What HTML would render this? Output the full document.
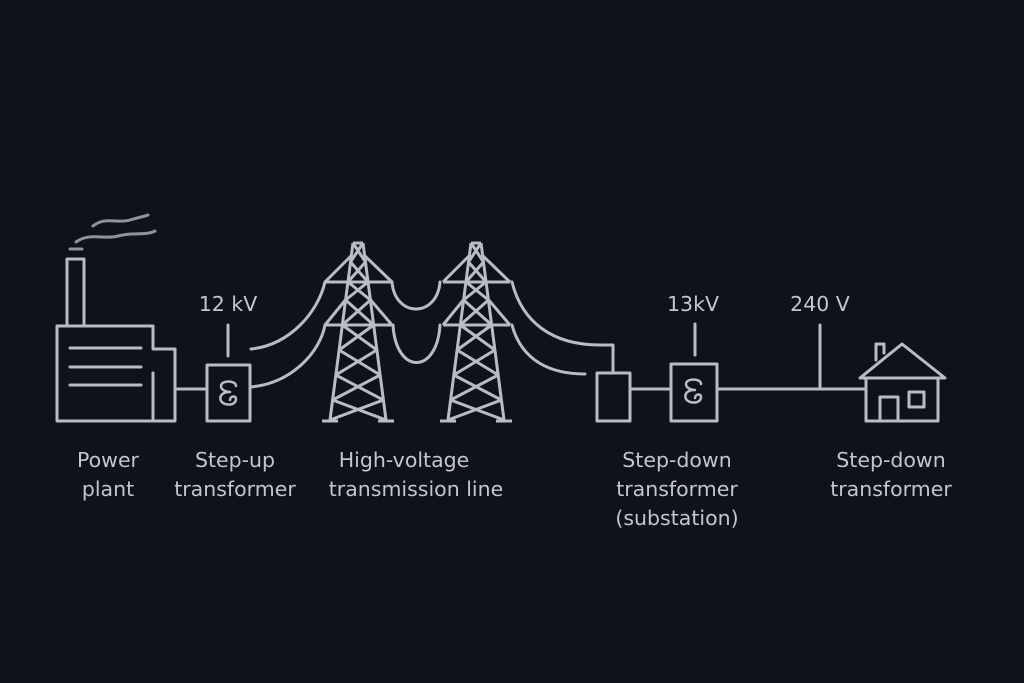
<!DOCTYPE html>
<html><head><meta charset="utf-8"><style>
html,body{margin:0;padding:0;background:#0f121a;}
svg{display:block}
text{font-family:"DejaVu Sans","Liberation Sans",sans-serif;font-size:20.5px;fill:#c4c6c9;text-anchor:middle}
</style></head><body>
<svg width="1024" height="683" viewBox="0 0 1024 683">
<rect width="1024" height="683" fill="#0f121a"/>
<defs>
<g id="tower" fill="none" stroke="#b9bcc1" stroke-width="3" stroke-linejoin="round">
  <path d="M-5,243 L-28,420 M5,243 L28,420 M-5,243 L5,243"/>
  <path d="M-33,282 L34,282 M-33,325 L34,325"/>
  <path d="M-33,282 L-6,255 M34,282 L6,255 M-33,325 L-11,298 M34,325 L11,298"/>
  <path d="M-5,243 L7.5,262 M5,243 L-7.5,262
           M-7.5,262 L10,282 M7.5,262 L-10,282
           M-10,282 L12.4,300 M10,282 L-12.4,300
           M-12.4,300 L15.7,325 M12.4,300 L-15.7,325
           M-15.7,325 L18.9,350 M15.7,325 L-18.9,350
           M-18.9,350 L22.2,375 M18.9,350 L-22.2,375
           M-22.2,375 L25.4,400 M22.2,375 L-25.4,400
           M-25.4,400 L28,420 M25.4,400 L-28,420"/>
  <path d="M-36,421 L-20,421 M20,421 L36,421"/>
</g>
</defs>
<g fill="none" stroke="#b9bcc1" stroke-width="3" stroke-linejoin="round" stroke-linecap="round">
  <path d="M93,226 C105,216 118,224 130,220 C140,217 146,216 148,215" stroke="#8f939a"/>
  <path d="M76,242 C90,232 104,240 118,236 C132,232 145,236 155,231" stroke="#8f939a"/>
  <path d="M70,249 L82,249" stroke="#8f939a"/>
  <path d="M67,326 L67,259 L84,259 L84,326"/>
  <path d="M57,421 L57,326 L153,326 L153,349 L175,349 L175,421 Z"/>
  <path d="M153,373 L153,421"/>
  <path d="M70,348 L141,348 M70,367 L141,367 M70,385 L141,385"/>
  <path d="M175,389 L207,389"/>
  <rect x="207" y="365" width="43" height="56"/>
  <path d="M228,325 L228,356"/>
  <path d="M236,386 C236,380 221,380 221,386 C221,390 226,392 230,392 C222,392 219,396 221,401 C224,406 236,406 236,399 C236,395 230,396 230,400" stroke-width="2.5"/>
  <path d="M251,349 C290,345 318,312 325,282"/>
  <path d="M251,387 C292,383 320,352 325,325"/>
  <path d="M392,282 C395,318 437,318 440,282"/>
  <path d="M393,325 C396,375 437,375 440,325"/>
  <path d="M512,282 C522,322 552,345 600,345 L613,345 L613,373"/>
  <path d="M512,325 C522,362 552,374 585,374"/>
  <rect x="597" y="373" width="33" height="48"/>
  <path d="M630,389 L671,389"/>
  <rect x="671" y="364" width="46" height="57"/>
  <path d="M695,324 L695,355"/>
  <path d="M701,384 C701,378 686,378 686,384 C686,388 691,390 695,390 C687,390 684,394 686,399 C689,404 701,404 701,397 C701,393 695,394 695,398" stroke-width="2.5"/>
  <path d="M717,389 L866,389"/>
  <path d="M820,325 L820,389"/>
  <path d="M860,378 L902,344 L945,378 Z"/>
  <path d="M866,378 L866,421 L938,421 L938,378"/>
  <path d="M876,360 L876,344 L884,344 L884,353"/>
  <path d="M880,421 L880,397 L898,397 L898,421"/>
  <rect x="909" y="392" width="15" height="15"/>
</g>
<use href="#tower" x="358"/>
<use href="#tower" x="476"/>
<text x="228" y="311">12 kV</text>
<text x="693" y="311">13kV</text>
<text x="820" y="311">240 V</text>
<text x="108" y="467">Power</text>
<text x="108" y="496">plant</text>
<text x="235" y="467">Step-up</text>
<text x="235" y="496">transformer</text>
<text x="404" y="467">High-voltage</text>
<text x="416" y="496">transmission line</text>
<text x="677" y="467">Step-down</text>
<text x="677" y="496">transformer</text>
<text x="677" y="525">(substation)</text>
<text x="891" y="467">Step-down</text>
<text x="891" y="496">transformer</text>
</svg>
</body></html>
